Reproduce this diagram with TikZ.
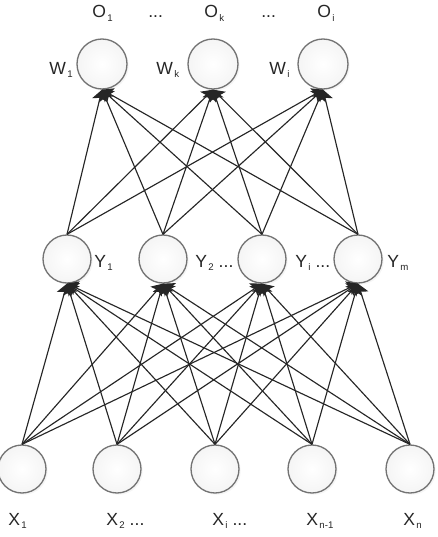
\documentclass[tikz,border=0pt]{standalone}
\usepackage{fontspec}
\setmainfont{Liberation Sans}
\usetikzlibrary{arrows.meta,shadows}
\newcommand{\lsub}[1]{\kern0.8pt\raisebox{-1.8pt}{\fontsize{5.5}{6}\selectfont #1}}
\tikzset{
  neuron/.style={circle, draw=black!55, line width=0.75pt, inner color=white, outer color=black!4,
    minimum size=0.96cm, drop shadow={opacity=0.08, shadow xshift=1pt, shadow yshift=-1pt}},
  lbl/.style={anchor=base west, inner sep=0pt, text=black!85, font=\fontsize{10}{12}\selectfont},
  link/.style={draw=black!85, line width=0.65pt, -{Stealth[length=6pt,width=8.5pt,inset=1.2pt]}}
}
\begin{document}
\begin{tikzpicture}[x=0.02cm, y=-0.02cm]
\useasboundingbox (0,0) rectangle (437,537);
% output layer
\node[neuron, minimum size=1cm] (w1) at (102,64) {};
\node[neuron, minimum size=1cm] (wk) at (213,64) {};
\node[neuron, minimum size=1cm] (wi) at (323,64) {};
% hidden layer
\node[neuron] (y1) at (67,259) {};
\node[neuron] (y2) at (163,259) {};
\node[neuron] (yi) at (262,259) {};
\node[neuron] (ym) at (358,259) {};
% input layer
\node[neuron] (x1) at (22,469) {};
\node[neuron] (x2) at (117,469) {};
\node[neuron] (xi) at (215,469) {};
\node[neuron] (xn1) at (312,469) {};
\node[neuron] (xn) at (410,469) {};
% labels
\node[lbl] (o1) at (92,18) {O\lsub{1}};
\node[lbl] (od1) at (148,18) {...};
\node[lbl] (ok) at (204,18) {O\lsub{k}};
\node[lbl] (od2) at (261,18) {...};
\node[lbl] (oi) at (317,18) {O\lsub{i}};
\node[lbl] (lw1) at (49,74) {W\lsub{1}};
\node[lbl] (lwk) at (156,74) {W\lsub{k}};
\node[lbl] (lwi) at (269,74) {W\lsub{i}};
\node[lbl] (ly1) at (94,267) {Y\lsub{1}};
\node[lbl] (ly2) at (195,267) {Y\lsub{2} ...};
\node[lbl] (lyi) at (295,267) {Y\lsub{i} ...};
\node[lbl] (lym) at (387,267) {Y\lsub{m}};
\node[lbl] (lx1) at (8,525) {X\lsub{1}};
\node[lbl] (lx2) at (106,525) {X\lsub{2} ...};
\node[lbl] (lxi) at (212,525) {X\lsub{i} ...};
\node[lbl] (lxn1) at (306,525) {X\lsub{n-1}};
\node[lbl] (lxn) at (403,525) {X\lsub{n}};
% input -> hidden
\draw[link] (x1.north) -- (y1.south);
\draw[link] (x1.north) -- (y2.south);
\draw[link] (x1.north) -- (yi.south);
\draw[link] (x1.north) -- (ym.south);
\draw[link] (x2.north) -- (y1.south);
\draw[link] (x2.north) -- (y2.south);
\draw[link] (x2.north) -- (yi.south);
\draw[link] (x2.north) -- (ym.south);
\draw[link] (xi.north) -- (y1.south);
\draw[link] (xi.north) -- (y2.south);
\draw[link] (xi.north) -- (yi.south);
\draw[link] (xi.north) -- (ym.south);
\draw[link] (xn1.north) -- (y1.south);
\draw[link] (xn1.north) -- (y2.south);
\draw[link] (xn1.north) -- (yi.south);
\draw[link] (xn1.north) -- (ym.south);
\draw[link] (xn.north) -- (y1.south);
\draw[link] (xn.north) -- (y2.south);
\draw[link] (xn.north) -- (yi.south);
\draw[link] (xn.north) -- (ym.south);
% hidden -> output
\draw[link] (y1.north) -- (w1.south);
\draw[link] (y1.north) -- (wk.south);
\draw[link] (y1.north) -- (wi.south);
\draw[link] (y2.north) -- (w1.south);
\draw[link] (y2.north) -- (wk.south);
\draw[link] (y2.north) -- (wi.south);
\draw[link] (yi.north) -- (w1.south);
\draw[link] (yi.north) -- (wk.south);
\draw[link] (yi.north) -- (wi.south);
\draw[link] (ym.north) -- (w1.south);
\draw[link] (ym.north) -- (wk.south);
\draw[link] (ym.north) -- (wi.south);
\end{tikzpicture}
\end{document}
